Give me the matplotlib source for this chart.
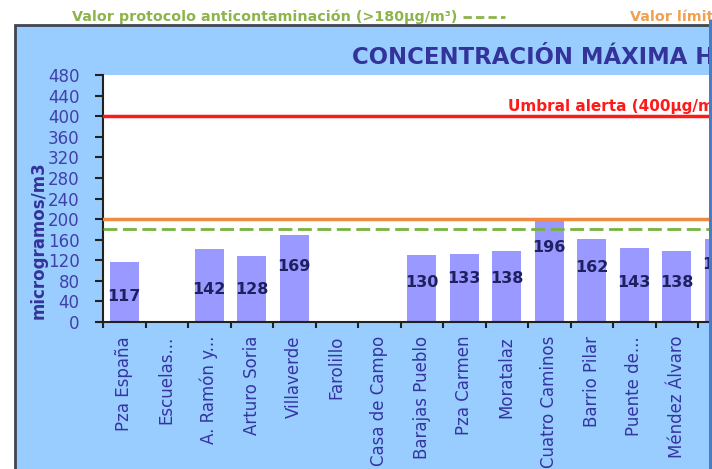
import numpy as np
import matplotlib
matplotlib.use("Agg")
import matplotlib.pyplot as plt
from matplotlib.patches import Rectangle
from matplotlib.lines import Line2D

# station data (last bar is cut off at the right edge of the picture)
stations = ["Pza España", "Escuelas...", "A. Ramón y...", "Arturo Soria", "Villaverde",
            "Farolillo", "Casa de Campo", "Barajas Pueblo", "Pza Carmen", "Moratalaz",
            "Cuatro Caminos", "Barrio Pilar", "Puente de...", "Méndez Álvaro", "..."]
values = [117, np.nan, 142, 128, 169, np.nan, np.nan, 130, 133, 138, 196, 162, 143, 138, 161]
# height (in µg/m3) where each value label sits
label_y = [50, np.nan, 64, 64, 107, np.nan, np.nan, 77, 85, 85, 144, 105, 76, 76, 111]

alert_level = 400
limit_level = 200
protocol_level = 180
yticks = list(range(0, 481, 40))

W, H = 712, 469
fig = plt.figure(figsize=(W / 100, H / 100), dpi=100)
fig.patch.set_facecolor("white")

def fx(px):
    return px / W

def fy(py):
    return 1 - py / H

# blue chart frame
fig.patches.append(Rectangle((fx(15), fy(475)), fx(700), fy(25) - fy(475),
                             transform=fig.transFigure, facecolor="#99CCFF",
                             edgecolor="#3F4650", lw=2, zorder=-5))
fig.patches.append(Rectangle((fx(709), 0), fx(4), fy(20), transform=fig.transFigure,
                             facecolor="#4A7CC4", edgecolor="none", zorder=10))

# header legend texts
fig.text(fx(72), fy(17), "Valor protocolo anticontaminación (>180µg/m³)", color="#8CB44A",
         fontsize=10.3, fontweight="bold", va="center", ha="left")
fig.lines.append(Line2D([fx(463), fx(505)], [fy(17), fy(17)], transform=fig.transFigure,
                        color="#8CB44A", lw=2, ls=(0, (3, 1.5))))
fig.text(fx(630), fy(17), "Valor límit", color="#F0A050",
         fontsize=10.3, fontweight="bold", va="center", ha="left")

fig.text(fx(352), fy(57), "CONCENTRACIÓN MÁXIMA H", color="#333399",
         fontsize=16.4, fontweight="bold", va="center", ha="left")

n = len(stations)
step = 42.5
ax = fig.add_axes([fx(103), fy(322), fx(n * step), fy(75) - fy(322)])
ax.set_facecolor("white")
x = np.arange(n)
ax.bar(x, values, width=0.68, color="#9999FF", zorder=2)
for xi, v, ly in zip(x, values, label_y):
    if not np.isnan(v):
        ax.text(xi, ly, f"{v:.0f}", ha="center", va="center", fontsize=11.5,
                fontweight="bold", color="#1F2060", zorder=4)

ax.axhline(alert_level, color="#FF1A1A", lw=2.5, zorder=3)
ax.axhline(limit_level, color="#F08A40", lw=2.5, zorder=3)
ax.axhline(protocol_level, color="#77B341", lw=2, ls=(0, (5, 2)), zorder=3)
ax.text(9.03, 418, "Umbral alerta (400µg/m³)", color="#FF1A1A", fontsize=11,
        fontweight="bold", ha="left", va="center")

ax.set_xlim(-0.5, n - 0.5)
ax.set_ylim(0, 480)
ax.set_yticks(yticks)
ax.set_xticks(x)
ax.set_xticklabels(stations, rotation=90, fontsize=12, color="#3535A0")
ax.set_xticks(np.arange(n + 1) - 0.5, minor=True)
ax.tick_params(axis="x", which="major", length=0, pad=10)
ax.tick_params(axis="x", which="minor", length=4, width=1.5, direction="out", color="#222222")
ax.tick_params(axis="y", labelsize=12, labelcolor="#4040A8", length=6, width=1.5,
               direction="out", color="#222222", pad=11)
for s in ["top", "right"]:
    ax.spines[s].set_visible(False)
for s in ["left", "bottom"]:
    ax.spines[s].set_color("#222222")
    ax.spines[s].set_linewidth(1.5)

fig.text(fx(39), fy(240), "microgramos/m3", rotation=90, color="#333399", fontsize=12,
         fontweight="bold", ha="center", va="center")

fig.savefig("out.png", dpi=100)
